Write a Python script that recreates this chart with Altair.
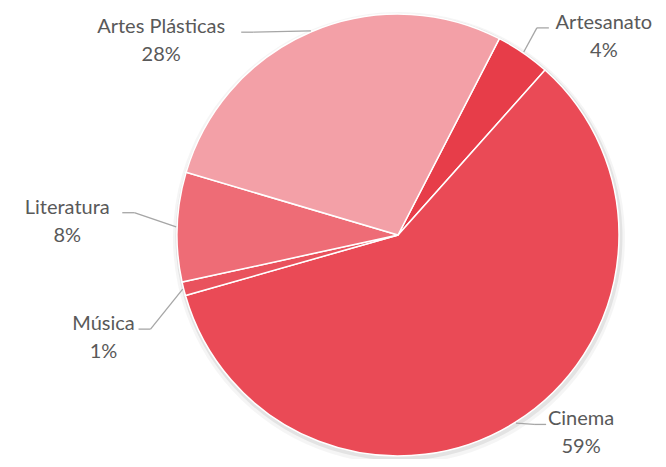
import math
import altair as alt
import pandas as pd

# ---- data (clockwise order as drawn) ----
categories = ["Artesanato", "Cinema", "Música", "Literatura", "Artes Plásticas"]
shares = [4, 59, 1, 8, 28]
pct_labels = ["4%", "59%", "1%", "8%", "28%"]

# ---- styles / layout ----
slice_colors = ["#E73D49", "#EA4A56", "#E9525D", "#EE6C76", "#F3A0A7"]
start_deg = 27.3
label_shift_deg = [11.6, -10.6, -5.2, 0.2, -27.6]
label_dist = [285.7, 270, 312, 331, 306]

W, H = 650, 451
CX, CY, R = 390, 227, 221

df = pd.DataFrame({
    "category": categories,
    "value": shares,
    "pct": pct_labels,
    "ord": list(range(len(categories))),
    "shift": label_shift_deg,
    "dist": label_dist,
})

a0 = math.radians(start_deg)
theta = alt.Theta("value:Q", stack=True, scale=alt.Scale(range=[a0, a0 + 2 * math.pi]))

base = alt.Chart(df)

shadow1 = base.mark_arc(outerRadius=R + 5, color="#000000", opacity=0.04).encode(
    theta=theta, order=alt.Order("ord:Q"), x=alt.value(CX + 1), y=alt.value(CY + 3)
)
shadow2 = base.mark_arc(outerRadius=R + 2.5, color="#000000", opacity=0.07).encode(
    theta=theta, order=alt.Order("ord:Q"), x=alt.value(CX + 1), y=alt.value(CY + 2)
)

pie = base.mark_arc(outerRadius=R, stroke="white", strokeWidth=1.5).encode(
    theta=theta,
    color=alt.Color("category:N", scale=alt.Scale(domain=categories, range=slice_colors), legend=None),
    order=alt.Order("ord:Q"),
    x=alt.value(CX),
    y=alt.value(CY),
)

geo = (
    base.transform_window(cum="sum(value)", sort=[{"field": "ord"}], frame=[None, 0])
    .transform_joinaggregate(total="sum(value)")
    .transform_calculate(mid=f"{start_deg} + 360 * (datum.cum - datum.value / 2) / datum.total")
    .transform_calculate(la="(datum.mid + datum.shift) * PI / 180", mr="datum.mid * PI / 180")
    .transform_calculate(
        lx=f"{CX} + datum.dist * sin(datum.la)",
        ly=f"{CY} - datum.dist * cos(datum.la)",
        ex=f"{CX} + {R + 1} * sin(datum.mr)",
        ey=f"{CY} - {R + 1} * cos(datum.mr)",
    )
    .transform_calculate(
        side=f"datum.lx < {CX} ? 1 : -1",
        halfw="length(datum.category) * 5.0 + 5",
        ny="datum.ly - 14",
        py="datum.ly + 14",
    )
    .transform_calculate(ax="datum.lx + datum.side * datum.halfw", ay="datum.ny + 5")
    .transform_calculate(bx="datum.ax + datum.side * 12", by="datum.ay")
)

X = lambda f: alt.X(f"{f}:Q", scale=None, axis=None)
Y = lambda f: alt.Y(f"{f}:Q", scale=None, axis=None)
X2 = lambda f: alt.X2(f"{f}:Q")
Y2 = lambda f: alt.Y2(f"{f}:Q")

lead1 = geo.mark_rule(color="#A6A6A6", strokeWidth=1.3).encode(
    x=X("ex"), y=Y("ey"), x2=X2("bx"), y2=Y2("by")
)
lead2 = geo.mark_rule(color="#A6A6A6", strokeWidth=1.3).encode(
    x=X("bx"), y=Y("by"), x2=X2("ax"), y2=Y2("ay")
)

txt = dict(font="Lato", fontSize=20, color="#595959", align="center", baseline="middle")
names = geo.mark_text(**txt).encode(x=X("lx"), y=Y("ny"), text="category:N")
pcts = geo.mark_text(**txt).encode(x=X("lx"), y=Y("py"), text="pct:N")

chart = (
    alt.layer(shadow1, shadow2, pie, lead1, lead2, names, pcts)
    .properties(width=W, height=H, autosize=alt.AutoSizeParams(type="none"), padding=0, background="white")
    .configure_view(stroke=None)
)

chart.save("out.html", embed_options={"renderer": "svg", "actions": False})
